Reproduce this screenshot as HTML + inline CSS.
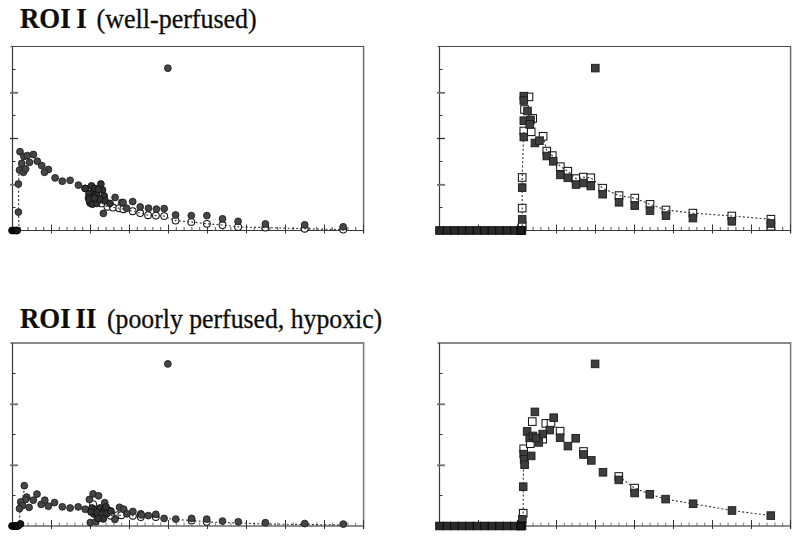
<!DOCTYPE html><html><head><meta charset="utf-8"><style>html,body{margin:0;padding:0;background:#fff;width:800px;height:539px;overflow:hidden}svg{display:block;font-family:"Liberation Serif",serif}</style></head><body><svg width="800" height="539" viewBox="0 0 800 539">
<rect width="800" height="539" fill="#fff"/>
<text transform="translate(20.0,27.6) scale(1.0,1.085)" font-family="Liberation Serif" font-weight="bold" font-size="26.8" fill="#0d0d0d" stroke="#0d0d0d" stroke-width="0.2">ROI</text>
<text transform="translate(76.2,27.6) scale(1.0,1.085)" font-family="Liberation Serif" font-weight="bold" font-size="26.8" fill="#0d0d0d" stroke="#0d0d0d" stroke-width="0.2">I</text>
<text transform="translate(96.6,27.6) scale(1.0,1.07)" font-family="Liberation Serif" font-size="26" fill="#0d0d0d" stroke="#0d0d0d" stroke-width="0.3">(well-perfused)</text>
<text transform="translate(20.0,328.3) scale(1.0,1.085)" font-family="Liberation Serif" font-weight="bold" font-size="26.8" fill="#0d0d0d" stroke="#0d0d0d" stroke-width="0.2">ROI</text>
<text transform="translate(75.6,328.3) scale(1.0,1.085)" font-family="Liberation Serif" font-weight="bold" font-size="26.8" fill="#0d0d0d" stroke="#0d0d0d" stroke-width="0.2">II</text>
<text transform="translate(107.0,328.3) scale(0.99,1.07)" font-family="Liberation Serif" font-size="26" fill="#0d0d0d" stroke="#0d0d0d" stroke-width="0.3">(poorly perfused, hypoxic)</text>
<line x1="10.5" y1="46.5" x2="363.6" y2="46.5" stroke="#4a4a4a" stroke-width="1.1"/>
<line x1="363.6" y1="46.5" x2="363.6" y2="232.5" stroke="#666" stroke-width="1.4" stroke-linecap="square"/>
<line x1="12.5" y1="46.5" x2="12.5" y2="230.5" stroke="#3a3a3a" stroke-width="1.2"/>
<line x1="12.5" y1="230.5" x2="363.6" y2="230.5" stroke="#3a3a3a" stroke-width="1.2"/>
<line x1="10.0" y1="92.8" x2="18.0" y2="92.8" stroke="#707070" stroke-width="1.8"/>
<line x1="10.0" y1="138.5" x2="18.0" y2="138.5" stroke="#333" stroke-width="1.3"/>
<line x1="10.0" y1="184.8" x2="18.0" y2="184.8" stroke="#707070" stroke-width="1.8"/>
<line x1="12.5" y1="69.5" x2="15.5" y2="69.5" stroke="#333" stroke-width="1"/>
<line x1="12.5" y1="115.5" x2="15.5" y2="115.5" stroke="#333" stroke-width="1"/>
<line x1="12.5" y1="161.5" x2="15.5" y2="161.5" stroke="#333" stroke-width="1"/>
<line x1="12.5" y1="207.5" x2="15.5" y2="207.5" stroke="#333" stroke-width="1"/>
<line x1="51.5" y1="224.5" x2="51.5" y2="233.5" stroke="#333" stroke-width="1"/>
<line x1="90.5" y1="224.5" x2="90.5" y2="233.5" stroke="#333" stroke-width="1"/>
<line x1="129.5" y1="224.5" x2="129.5" y2="233.5" stroke="#333" stroke-width="1"/>
<line x1="168.5" y1="224.5" x2="168.5" y2="233.5" stroke="#333" stroke-width="1"/>
<line x1="207.5" y1="224.5" x2="207.5" y2="233.5" stroke="#333" stroke-width="1"/>
<line x1="246.5" y1="224.5" x2="246.5" y2="233.5" stroke="#333" stroke-width="1"/>
<line x1="285.5" y1="224.5" x2="285.5" y2="233.5" stroke="#333" stroke-width="1"/>
<line x1="324.5" y1="224.5" x2="324.5" y2="233.5" stroke="#333" stroke-width="1"/>
<line x1="363.5" y1="224.5" x2="363.5" y2="233.5" stroke="#333" stroke-width="1"/>
<line x1="20.3" y1="227.0" x2="20.3" y2="230.5" stroke="#444" stroke-width="0.9"/>
<line x1="28.1" y1="227.0" x2="28.1" y2="230.5" stroke="#444" stroke-width="0.9"/>
<line x1="35.9" y1="227.0" x2="35.9" y2="230.5" stroke="#444" stroke-width="0.9"/>
<line x1="43.7" y1="227.0" x2="43.7" y2="230.5" stroke="#444" stroke-width="0.9"/>
<line x1="59.3" y1="227.0" x2="59.3" y2="230.5" stroke="#444" stroke-width="0.9"/>
<line x1="67.1" y1="227.0" x2="67.1" y2="230.5" stroke="#444" stroke-width="0.9"/>
<line x1="74.9" y1="227.0" x2="74.9" y2="230.5" stroke="#444" stroke-width="0.9"/>
<line x1="82.7" y1="227.0" x2="82.7" y2="230.5" stroke="#444" stroke-width="0.9"/>
<line x1="98.3" y1="227.0" x2="98.3" y2="230.5" stroke="#444" stroke-width="0.9"/>
<line x1="106.1" y1="227.0" x2="106.1" y2="230.5" stroke="#444" stroke-width="0.9"/>
<line x1="113.9" y1="227.0" x2="113.9" y2="230.5" stroke="#444" stroke-width="0.9"/>
<line x1="121.7" y1="227.0" x2="121.7" y2="230.5" stroke="#444" stroke-width="0.9"/>
<line x1="137.3" y1="227.0" x2="137.3" y2="230.5" stroke="#444" stroke-width="0.9"/>
<line x1="145.1" y1="227.0" x2="145.1" y2="230.5" stroke="#444" stroke-width="0.9"/>
<line x1="152.9" y1="227.0" x2="152.9" y2="230.5" stroke="#444" stroke-width="0.9"/>
<line x1="160.7" y1="227.0" x2="160.7" y2="230.5" stroke="#444" stroke-width="0.9"/>
<line x1="176.3" y1="227.0" x2="176.3" y2="230.5" stroke="#444" stroke-width="0.9"/>
<line x1="184.1" y1="227.0" x2="184.1" y2="230.5" stroke="#444" stroke-width="0.9"/>
<line x1="191.9" y1="227.0" x2="191.9" y2="230.5" stroke="#444" stroke-width="0.9"/>
<line x1="199.7" y1="227.0" x2="199.7" y2="230.5" stroke="#444" stroke-width="0.9"/>
<line x1="215.3" y1="227.0" x2="215.3" y2="230.5" stroke="#444" stroke-width="0.9"/>
<line x1="223.1" y1="227.0" x2="223.1" y2="230.5" stroke="#444" stroke-width="0.9"/>
<line x1="230.9" y1="227.0" x2="230.9" y2="230.5" stroke="#444" stroke-width="0.9"/>
<line x1="238.7" y1="227.0" x2="238.7" y2="230.5" stroke="#444" stroke-width="0.9"/>
<line x1="254.3" y1="227.0" x2="254.3" y2="230.5" stroke="#444" stroke-width="0.9"/>
<line x1="262.1" y1="227.0" x2="262.1" y2="230.5" stroke="#444" stroke-width="0.9"/>
<line x1="269.9" y1="227.0" x2="269.9" y2="230.5" stroke="#444" stroke-width="0.9"/>
<line x1="277.7" y1="227.0" x2="277.7" y2="230.5" stroke="#444" stroke-width="0.9"/>
<line x1="293.3" y1="227.0" x2="293.3" y2="230.5" stroke="#444" stroke-width="0.9"/>
<line x1="301.1" y1="227.0" x2="301.1" y2="230.5" stroke="#444" stroke-width="0.9"/>
<line x1="308.9" y1="227.0" x2="308.9" y2="230.5" stroke="#444" stroke-width="0.9"/>
<line x1="316.7" y1="227.0" x2="316.7" y2="230.5" stroke="#444" stroke-width="0.9"/>
<line x1="332.3" y1="227.0" x2="332.3" y2="230.5" stroke="#444" stroke-width="0.9"/>
<line x1="340.1" y1="227.0" x2="340.1" y2="230.5" stroke="#444" stroke-width="0.9"/>
<line x1="347.9" y1="227.0" x2="347.9" y2="230.5" stroke="#444" stroke-width="0.9"/>
<line x1="355.7" y1="227.0" x2="355.7" y2="230.5" stroke="#444" stroke-width="0.9"/>
<line x1="437.5" y1="46.5" x2="790.6" y2="46.5" stroke="#4a4a4a" stroke-width="1.1"/>
<line x1="790.6" y1="46.5" x2="790.6" y2="232.5" stroke="#666" stroke-width="1.4" stroke-linecap="square"/>
<line x1="439.5" y1="46.5" x2="439.5" y2="230.5" stroke="#3a3a3a" stroke-width="1.2"/>
<line x1="439.5" y1="230.5" x2="790.6" y2="230.5" stroke="#3a3a3a" stroke-width="1.2"/>
<line x1="437.0" y1="92.8" x2="445.0" y2="92.8" stroke="#707070" stroke-width="1.8"/>
<line x1="437.0" y1="138.5" x2="445.0" y2="138.5" stroke="#333" stroke-width="1.3"/>
<line x1="437.0" y1="184.8" x2="445.0" y2="184.8" stroke="#707070" stroke-width="1.8"/>
<line x1="439.5" y1="69.5" x2="442.5" y2="69.5" stroke="#333" stroke-width="1"/>
<line x1="439.5" y1="115.5" x2="442.5" y2="115.5" stroke="#333" stroke-width="1"/>
<line x1="439.5" y1="161.5" x2="442.5" y2="161.5" stroke="#333" stroke-width="1"/>
<line x1="439.5" y1="207.5" x2="442.5" y2="207.5" stroke="#333" stroke-width="1"/>
<line x1="478.5" y1="224.5" x2="478.5" y2="233.5" stroke="#333" stroke-width="1"/>
<line x1="517.5" y1="224.5" x2="517.5" y2="233.5" stroke="#333" stroke-width="1"/>
<line x1="556.5" y1="224.5" x2="556.5" y2="233.5" stroke="#333" stroke-width="1"/>
<line x1="595.5" y1="224.5" x2="595.5" y2="233.5" stroke="#333" stroke-width="1"/>
<line x1="634.5" y1="224.5" x2="634.5" y2="233.5" stroke="#333" stroke-width="1"/>
<line x1="673.5" y1="224.5" x2="673.5" y2="233.5" stroke="#333" stroke-width="1"/>
<line x1="712.5" y1="224.5" x2="712.5" y2="233.5" stroke="#333" stroke-width="1"/>
<line x1="751.5" y1="224.5" x2="751.5" y2="233.5" stroke="#333" stroke-width="1"/>
<line x1="790.5" y1="224.5" x2="790.5" y2="233.5" stroke="#333" stroke-width="1"/>
<line x1="447.3" y1="227.0" x2="447.3" y2="230.5" stroke="#444" stroke-width="0.9"/>
<line x1="455.1" y1="227.0" x2="455.1" y2="230.5" stroke="#444" stroke-width="0.9"/>
<line x1="462.9" y1="227.0" x2="462.9" y2="230.5" stroke="#444" stroke-width="0.9"/>
<line x1="470.7" y1="227.0" x2="470.7" y2="230.5" stroke="#444" stroke-width="0.9"/>
<line x1="486.3" y1="227.0" x2="486.3" y2="230.5" stroke="#444" stroke-width="0.9"/>
<line x1="494.1" y1="227.0" x2="494.1" y2="230.5" stroke="#444" stroke-width="0.9"/>
<line x1="501.9" y1="227.0" x2="501.9" y2="230.5" stroke="#444" stroke-width="0.9"/>
<line x1="509.7" y1="227.0" x2="509.7" y2="230.5" stroke="#444" stroke-width="0.9"/>
<line x1="525.3" y1="227.0" x2="525.3" y2="230.5" stroke="#444" stroke-width="0.9"/>
<line x1="533.1" y1="227.0" x2="533.1" y2="230.5" stroke="#444" stroke-width="0.9"/>
<line x1="540.9" y1="227.0" x2="540.9" y2="230.5" stroke="#444" stroke-width="0.9"/>
<line x1="548.7" y1="227.0" x2="548.7" y2="230.5" stroke="#444" stroke-width="0.9"/>
<line x1="564.3" y1="227.0" x2="564.3" y2="230.5" stroke="#444" stroke-width="0.9"/>
<line x1="572.1" y1="227.0" x2="572.1" y2="230.5" stroke="#444" stroke-width="0.9"/>
<line x1="579.9" y1="227.0" x2="579.9" y2="230.5" stroke="#444" stroke-width="0.9"/>
<line x1="587.7" y1="227.0" x2="587.7" y2="230.5" stroke="#444" stroke-width="0.9"/>
<line x1="603.3" y1="227.0" x2="603.3" y2="230.5" stroke="#444" stroke-width="0.9"/>
<line x1="611.1" y1="227.0" x2="611.1" y2="230.5" stroke="#444" stroke-width="0.9"/>
<line x1="618.9" y1="227.0" x2="618.9" y2="230.5" stroke="#444" stroke-width="0.9"/>
<line x1="626.7" y1="227.0" x2="626.7" y2="230.5" stroke="#444" stroke-width="0.9"/>
<line x1="642.3" y1="227.0" x2="642.3" y2="230.5" stroke="#444" stroke-width="0.9"/>
<line x1="650.1" y1="227.0" x2="650.1" y2="230.5" stroke="#444" stroke-width="0.9"/>
<line x1="657.9" y1="227.0" x2="657.9" y2="230.5" stroke="#444" stroke-width="0.9"/>
<line x1="665.7" y1="227.0" x2="665.7" y2="230.5" stroke="#444" stroke-width="0.9"/>
<line x1="681.3" y1="227.0" x2="681.3" y2="230.5" stroke="#444" stroke-width="0.9"/>
<line x1="689.1" y1="227.0" x2="689.1" y2="230.5" stroke="#444" stroke-width="0.9"/>
<line x1="696.9" y1="227.0" x2="696.9" y2="230.5" stroke="#444" stroke-width="0.9"/>
<line x1="704.7" y1="227.0" x2="704.7" y2="230.5" stroke="#444" stroke-width="0.9"/>
<line x1="720.3" y1="227.0" x2="720.3" y2="230.5" stroke="#444" stroke-width="0.9"/>
<line x1="728.1" y1="227.0" x2="728.1" y2="230.5" stroke="#444" stroke-width="0.9"/>
<line x1="735.9" y1="227.0" x2="735.9" y2="230.5" stroke="#444" stroke-width="0.9"/>
<line x1="743.7" y1="227.0" x2="743.7" y2="230.5" stroke="#444" stroke-width="0.9"/>
<line x1="759.3" y1="227.0" x2="759.3" y2="230.5" stroke="#444" stroke-width="0.9"/>
<line x1="767.1" y1="227.0" x2="767.1" y2="230.5" stroke="#444" stroke-width="0.9"/>
<line x1="774.9" y1="227.0" x2="774.9" y2="230.5" stroke="#444" stroke-width="0.9"/>
<line x1="782.7" y1="227.0" x2="782.7" y2="230.5" stroke="#444" stroke-width="0.9"/>
<line x1="10.5" y1="343" x2="363.6" y2="343" stroke="#8a8a8a" stroke-width="2"/>
<line x1="363.6" y1="343" x2="363.6" y2="528" stroke="#777" stroke-width="1.5" stroke-linecap="square"/>
<line x1="12.5" y1="343" x2="12.5" y2="526" stroke="#3a3a3a" stroke-width="1.2"/>
<line x1="12.5" y1="526" x2="363.6" y2="526" stroke="#6a6a6a" stroke-width="1.6"/>
<line x1="10.0" y1="404.3" x2="18.0" y2="404.3" stroke="#707070" stroke-width="1.8"/>
<line x1="10.0" y1="465.3" x2="18.0" y2="465.3" stroke="#707070" stroke-width="1.8"/>
<line x1="12.5" y1="373.5" x2="15.5" y2="373.5" stroke="#333" stroke-width="1"/>
<line x1="12.5" y1="434.5" x2="15.5" y2="434.5" stroke="#333" stroke-width="1"/>
<line x1="12.5" y1="495.5" x2="15.5" y2="495.5" stroke="#333" stroke-width="1"/>
<line x1="51.5" y1="520" x2="51.5" y2="529" stroke="#333" stroke-width="1"/>
<line x1="90.5" y1="520" x2="90.5" y2="529" stroke="#333" stroke-width="1"/>
<line x1="129.5" y1="520" x2="129.5" y2="529" stroke="#333" stroke-width="1"/>
<line x1="168.5" y1="520" x2="168.5" y2="529" stroke="#333" stroke-width="1"/>
<line x1="207.5" y1="520" x2="207.5" y2="529" stroke="#333" stroke-width="1"/>
<line x1="246.5" y1="520" x2="246.5" y2="529" stroke="#333" stroke-width="1"/>
<line x1="285.5" y1="520" x2="285.5" y2="529" stroke="#333" stroke-width="1"/>
<line x1="324.5" y1="520" x2="324.5" y2="529" stroke="#333" stroke-width="1"/>
<line x1="363.5" y1="520" x2="363.5" y2="529" stroke="#333" stroke-width="1"/>
<line x1="20.3" y1="522.5" x2="20.3" y2="526" stroke="#6a6a6a" stroke-width="0.9"/>
<line x1="28.1" y1="522.5" x2="28.1" y2="526" stroke="#6a6a6a" stroke-width="0.9"/>
<line x1="35.9" y1="522.5" x2="35.9" y2="526" stroke="#6a6a6a" stroke-width="0.9"/>
<line x1="43.7" y1="522.5" x2="43.7" y2="526" stroke="#6a6a6a" stroke-width="0.9"/>
<line x1="59.3" y1="522.5" x2="59.3" y2="526" stroke="#6a6a6a" stroke-width="0.9"/>
<line x1="67.1" y1="522.5" x2="67.1" y2="526" stroke="#6a6a6a" stroke-width="0.9"/>
<line x1="74.9" y1="522.5" x2="74.9" y2="526" stroke="#6a6a6a" stroke-width="0.9"/>
<line x1="82.7" y1="522.5" x2="82.7" y2="526" stroke="#6a6a6a" stroke-width="0.9"/>
<line x1="98.3" y1="522.5" x2="98.3" y2="526" stroke="#6a6a6a" stroke-width="0.9"/>
<line x1="106.1" y1="522.5" x2="106.1" y2="526" stroke="#6a6a6a" stroke-width="0.9"/>
<line x1="113.9" y1="522.5" x2="113.9" y2="526" stroke="#6a6a6a" stroke-width="0.9"/>
<line x1="121.7" y1="522.5" x2="121.7" y2="526" stroke="#6a6a6a" stroke-width="0.9"/>
<line x1="137.3" y1="522.5" x2="137.3" y2="526" stroke="#6a6a6a" stroke-width="0.9"/>
<line x1="145.1" y1="522.5" x2="145.1" y2="526" stroke="#6a6a6a" stroke-width="0.9"/>
<line x1="152.9" y1="522.5" x2="152.9" y2="526" stroke="#6a6a6a" stroke-width="0.9"/>
<line x1="160.7" y1="522.5" x2="160.7" y2="526" stroke="#6a6a6a" stroke-width="0.9"/>
<line x1="176.3" y1="522.5" x2="176.3" y2="526" stroke="#6a6a6a" stroke-width="0.9"/>
<line x1="184.1" y1="522.5" x2="184.1" y2="526" stroke="#6a6a6a" stroke-width="0.9"/>
<line x1="191.9" y1="522.5" x2="191.9" y2="526" stroke="#6a6a6a" stroke-width="0.9"/>
<line x1="199.7" y1="522.5" x2="199.7" y2="526" stroke="#6a6a6a" stroke-width="0.9"/>
<line x1="215.3" y1="522.5" x2="215.3" y2="526" stroke="#6a6a6a" stroke-width="0.9"/>
<line x1="223.1" y1="522.5" x2="223.1" y2="526" stroke="#6a6a6a" stroke-width="0.9"/>
<line x1="230.9" y1="522.5" x2="230.9" y2="526" stroke="#6a6a6a" stroke-width="0.9"/>
<line x1="238.7" y1="522.5" x2="238.7" y2="526" stroke="#6a6a6a" stroke-width="0.9"/>
<line x1="254.3" y1="522.5" x2="254.3" y2="526" stroke="#6a6a6a" stroke-width="0.9"/>
<line x1="262.1" y1="522.5" x2="262.1" y2="526" stroke="#6a6a6a" stroke-width="0.9"/>
<line x1="269.9" y1="522.5" x2="269.9" y2="526" stroke="#6a6a6a" stroke-width="0.9"/>
<line x1="277.7" y1="522.5" x2="277.7" y2="526" stroke="#6a6a6a" stroke-width="0.9"/>
<line x1="293.3" y1="522.5" x2="293.3" y2="526" stroke="#6a6a6a" stroke-width="0.9"/>
<line x1="301.1" y1="522.5" x2="301.1" y2="526" stroke="#6a6a6a" stroke-width="0.9"/>
<line x1="308.9" y1="522.5" x2="308.9" y2="526" stroke="#6a6a6a" stroke-width="0.9"/>
<line x1="316.7" y1="522.5" x2="316.7" y2="526" stroke="#6a6a6a" stroke-width="0.9"/>
<line x1="332.3" y1="522.5" x2="332.3" y2="526" stroke="#6a6a6a" stroke-width="0.9"/>
<line x1="340.1" y1="522.5" x2="340.1" y2="526" stroke="#6a6a6a" stroke-width="0.9"/>
<line x1="347.9" y1="522.5" x2="347.9" y2="526" stroke="#6a6a6a" stroke-width="0.9"/>
<line x1="355.7" y1="522.5" x2="355.7" y2="526" stroke="#6a6a6a" stroke-width="0.9"/>
<line x1="437.5" y1="343" x2="790.6" y2="343" stroke="#8a8a8a" stroke-width="2"/>
<line x1="790.6" y1="343" x2="790.6" y2="528" stroke="#777" stroke-width="1.5" stroke-linecap="square"/>
<line x1="439.5" y1="343" x2="439.5" y2="526" stroke="#3a3a3a" stroke-width="1.2"/>
<line x1="439.5" y1="526" x2="790.6" y2="526" stroke="#6a6a6a" stroke-width="1.6"/>
<line x1="437.0" y1="404.3" x2="445.0" y2="404.3" stroke="#707070" stroke-width="1.8"/>
<line x1="437.0" y1="465.3" x2="445.0" y2="465.3" stroke="#707070" stroke-width="1.8"/>
<line x1="439.5" y1="373.5" x2="442.5" y2="373.5" stroke="#333" stroke-width="1"/>
<line x1="439.5" y1="434.5" x2="442.5" y2="434.5" stroke="#333" stroke-width="1"/>
<line x1="439.5" y1="495.5" x2="442.5" y2="495.5" stroke="#333" stroke-width="1"/>
<line x1="478.5" y1="520" x2="478.5" y2="529" stroke="#333" stroke-width="1"/>
<line x1="517.5" y1="520" x2="517.5" y2="529" stroke="#333" stroke-width="1"/>
<line x1="556.5" y1="520" x2="556.5" y2="529" stroke="#333" stroke-width="1"/>
<line x1="595.5" y1="520" x2="595.5" y2="529" stroke="#333" stroke-width="1"/>
<line x1="634.5" y1="520" x2="634.5" y2="529" stroke="#333" stroke-width="1"/>
<line x1="673.5" y1="520" x2="673.5" y2="529" stroke="#333" stroke-width="1"/>
<line x1="712.5" y1="520" x2="712.5" y2="529" stroke="#333" stroke-width="1"/>
<line x1="751.5" y1="520" x2="751.5" y2="529" stroke="#333" stroke-width="1"/>
<line x1="790.5" y1="520" x2="790.5" y2="529" stroke="#333" stroke-width="1"/>
<line x1="447.3" y1="522.5" x2="447.3" y2="526" stroke="#6a6a6a" stroke-width="0.9"/>
<line x1="455.1" y1="522.5" x2="455.1" y2="526" stroke="#6a6a6a" stroke-width="0.9"/>
<line x1="462.9" y1="522.5" x2="462.9" y2="526" stroke="#6a6a6a" stroke-width="0.9"/>
<line x1="470.7" y1="522.5" x2="470.7" y2="526" stroke="#6a6a6a" stroke-width="0.9"/>
<line x1="486.3" y1="522.5" x2="486.3" y2="526" stroke="#6a6a6a" stroke-width="0.9"/>
<line x1="494.1" y1="522.5" x2="494.1" y2="526" stroke="#6a6a6a" stroke-width="0.9"/>
<line x1="501.9" y1="522.5" x2="501.9" y2="526" stroke="#6a6a6a" stroke-width="0.9"/>
<line x1="509.7" y1="522.5" x2="509.7" y2="526" stroke="#6a6a6a" stroke-width="0.9"/>
<line x1="525.3" y1="522.5" x2="525.3" y2="526" stroke="#6a6a6a" stroke-width="0.9"/>
<line x1="533.1" y1="522.5" x2="533.1" y2="526" stroke="#6a6a6a" stroke-width="0.9"/>
<line x1="540.9" y1="522.5" x2="540.9" y2="526" stroke="#6a6a6a" stroke-width="0.9"/>
<line x1="548.7" y1="522.5" x2="548.7" y2="526" stroke="#6a6a6a" stroke-width="0.9"/>
<line x1="564.3" y1="522.5" x2="564.3" y2="526" stroke="#6a6a6a" stroke-width="0.9"/>
<line x1="572.1" y1="522.5" x2="572.1" y2="526" stroke="#6a6a6a" stroke-width="0.9"/>
<line x1="579.9" y1="522.5" x2="579.9" y2="526" stroke="#6a6a6a" stroke-width="0.9"/>
<line x1="587.7" y1="522.5" x2="587.7" y2="526" stroke="#6a6a6a" stroke-width="0.9"/>
<line x1="603.3" y1="522.5" x2="603.3" y2="526" stroke="#6a6a6a" stroke-width="0.9"/>
<line x1="611.1" y1="522.5" x2="611.1" y2="526" stroke="#6a6a6a" stroke-width="0.9"/>
<line x1="618.9" y1="522.5" x2="618.9" y2="526" stroke="#6a6a6a" stroke-width="0.9"/>
<line x1="626.7" y1="522.5" x2="626.7" y2="526" stroke="#6a6a6a" stroke-width="0.9"/>
<line x1="642.3" y1="522.5" x2="642.3" y2="526" stroke="#6a6a6a" stroke-width="0.9"/>
<line x1="650.1" y1="522.5" x2="650.1" y2="526" stroke="#6a6a6a" stroke-width="0.9"/>
<line x1="657.9" y1="522.5" x2="657.9" y2="526" stroke="#6a6a6a" stroke-width="0.9"/>
<line x1="665.7" y1="522.5" x2="665.7" y2="526" stroke="#6a6a6a" stroke-width="0.9"/>
<line x1="681.3" y1="522.5" x2="681.3" y2="526" stroke="#6a6a6a" stroke-width="0.9"/>
<line x1="689.1" y1="522.5" x2="689.1" y2="526" stroke="#6a6a6a" stroke-width="0.9"/>
<line x1="696.9" y1="522.5" x2="696.9" y2="526" stroke="#6a6a6a" stroke-width="0.9"/>
<line x1="704.7" y1="522.5" x2="704.7" y2="526" stroke="#6a6a6a" stroke-width="0.9"/>
<line x1="720.3" y1="522.5" x2="720.3" y2="526" stroke="#6a6a6a" stroke-width="0.9"/>
<line x1="728.1" y1="522.5" x2="728.1" y2="526" stroke="#6a6a6a" stroke-width="0.9"/>
<line x1="735.9" y1="522.5" x2="735.9" y2="526" stroke="#6a6a6a" stroke-width="0.9"/>
<line x1="743.7" y1="522.5" x2="743.7" y2="526" stroke="#6a6a6a" stroke-width="0.9"/>
<line x1="759.3" y1="522.5" x2="759.3" y2="526" stroke="#6a6a6a" stroke-width="0.9"/>
<line x1="767.1" y1="522.5" x2="767.1" y2="526" stroke="#6a6a6a" stroke-width="0.9"/>
<line x1="774.9" y1="522.5" x2="774.9" y2="526" stroke="#6a6a6a" stroke-width="0.9"/>
<line x1="782.7" y1="522.5" x2="782.7" y2="526" stroke="#6a6a6a" stroke-width="0.9"/>
<circle cx="101.7" cy="203.4" r="3.4" fill="#fff" stroke="#151515" stroke-width="1.05"/>
<circle cx="107.5" cy="206.7" r="3.4" fill="#fff" stroke="#151515" stroke-width="1.05"/>
<circle cx="113" cy="207.5" r="3.4" fill="#fff" stroke="#151515" stroke-width="1.05"/>
<circle cx="119.2" cy="208.2" r="3.4" fill="#fff" stroke="#151515" stroke-width="1.05"/>
<circle cx="123.4" cy="209.2" r="3.4" fill="#fff" stroke="#151515" stroke-width="1.05"/>
<circle cx="132.7" cy="211.2" r="3.4" fill="#fff" stroke="#151515" stroke-width="1.05"/>
<circle cx="140.2" cy="213.0" r="3.4" fill="#fff" stroke="#151515" stroke-width="1.05"/>
<circle cx="148.1" cy="215.2" r="3.4" fill="#fff" stroke="#151515" stroke-width="1.05"/>
<circle cx="155.9" cy="215.6" r="3.4" fill="#fff" stroke="#151515" stroke-width="1.05"/>
<circle cx="164.2" cy="216.1" r="3.4" fill="#fff" stroke="#151515" stroke-width="1.05"/>
<circle cx="175.6" cy="220.6" r="3.4" fill="#fff" stroke="#151515" stroke-width="1.05"/>
<circle cx="191.3" cy="221.9" r="3.4" fill="#fff" stroke="#151515" stroke-width="1.05"/>
<circle cx="206.9" cy="223.8" r="3.4" fill="#fff" stroke="#151515" stroke-width="1.05"/>
<circle cx="222.5" cy="225" r="3.4" fill="#fff" stroke="#151515" stroke-width="1.05"/>
<circle cx="238.1" cy="226.9" r="3.4" fill="#fff" stroke="#151515" stroke-width="1.05"/>
<circle cx="265.4" cy="227.6" r="3.4" fill="#fff" stroke="#151515" stroke-width="1.05"/>
<circle cx="304.7" cy="228.7" r="3.4" fill="#fff" stroke="#151515" stroke-width="1.05"/>
<circle cx="343.2" cy="229.6" r="3.4" fill="#fff" stroke="#151515" stroke-width="1.05"/>
<path d="M19,230.5 L18.6,212 L18.6,184 L19.5,160" fill="none" stroke="#333" stroke-width="1.1" stroke-dasharray="2,2.2"/>
<path d="M101.7,203.4 L107.5,206.7 L113,207.5 L119.2,208.2 L123.4,209.2 L132.7,211.2 L140.2,213.0 L148.1,215.2 L155.9,215.6 L164.2,216.1 L175.6,220.6 L191.3,221.9 L206.9,223.8 L222.5,225 L238.1,226.9 L265.4,227.6 L304.7,228.7 L343.2,229.6" fill="none" stroke="#333" stroke-width="1.1" stroke-dasharray="2,2.2"/>
<circle cx="18.4" cy="212.1" r="3.4" fill="#464646" stroke="#1e1e1e" stroke-width="0.9"/>
<circle cx="18.4" cy="184" r="3.4" fill="#464646" stroke="#1e1e1e" stroke-width="0.9"/>
<circle cx="19.5" cy="170.1" r="3.4" fill="#464646" stroke="#1e1e1e" stroke-width="0.9"/>
<circle cx="23.4" cy="172.3" r="3.4" fill="#464646" stroke="#1e1e1e" stroke-width="0.9"/>
<circle cx="25.6" cy="169" r="3.4" fill="#464646" stroke="#1e1e1e" stroke-width="0.9"/>
<circle cx="21.7" cy="163.4" r="3.4" fill="#464646" stroke="#1e1e1e" stroke-width="0.9"/>
<circle cx="29.5" cy="162.3" r="3.4" fill="#464646" stroke="#1e1e1e" stroke-width="0.9"/>
<circle cx="20.0" cy="151.7" r="3.4" fill="#464646" stroke="#1e1e1e" stroke-width="0.9"/>
<circle cx="23.9" cy="156.5" r="3.4" fill="#464646" stroke="#1e1e1e" stroke-width="0.9"/>
<circle cx="27.3" cy="155.6" r="3.4" fill="#464646" stroke="#1e1e1e" stroke-width="0.9"/>
<circle cx="33.4" cy="154.5" r="3.4" fill="#464646" stroke="#1e1e1e" stroke-width="0.9"/>
<circle cx="37.3" cy="161.2" r="3.4" fill="#464646" stroke="#1e1e1e" stroke-width="0.9"/>
<circle cx="41.7" cy="165.6" r="3.4" fill="#464646" stroke="#1e1e1e" stroke-width="0.9"/>
<circle cx="48.4" cy="169.5" r="3.4" fill="#464646" stroke="#1e1e1e" stroke-width="0.9"/>
<circle cx="44.5" cy="172.3" r="3.4" fill="#464646" stroke="#1e1e1e" stroke-width="0.9"/>
<circle cx="55.1" cy="177.9" r="3.4" fill="#464646" stroke="#1e1e1e" stroke-width="0.9"/>
<circle cx="62.3" cy="181.2" r="3.4" fill="#464646" stroke="#1e1e1e" stroke-width="0.9"/>
<circle cx="70.1" cy="180.3" r="3.4" fill="#464646" stroke="#1e1e1e" stroke-width="0.9"/>
<circle cx="78.4" cy="185.1" r="3.4" fill="#464646" stroke="#1e1e1e" stroke-width="0.9"/>
<circle cx="85.5" cy="188.5" r="3.4" fill="#333" stroke="#111" stroke-width="0.9"/>
<circle cx="91.5" cy="185.9" r="3.4" fill="#333" stroke="#111" stroke-width="0.9"/>
<circle cx="100.9" cy="184.0" r="3.4" fill="#333" stroke="#111" stroke-width="0.9"/>
<circle cx="85.0" cy="188.4" r="3.4" fill="#333" stroke="#111" stroke-width="0.9"/>
<circle cx="102.5" cy="190.0" r="3.4" fill="#333" stroke="#111" stroke-width="0.9"/>
<circle cx="92.5" cy="192.5" r="3.4" fill="#333" stroke="#111" stroke-width="0.9"/>
<circle cx="96.7" cy="195.0" r="3.4" fill="#333" stroke="#111" stroke-width="0.9"/>
<circle cx="104.2" cy="195.9" r="3.4" fill="#333" stroke="#111" stroke-width="0.9"/>
<circle cx="95" cy="188.5" r="3.4" fill="#333" stroke="#111" stroke-width="0.9"/>
<circle cx="98.5" cy="189.5" r="3.4" fill="#333" stroke="#111" stroke-width="0.9"/>
<circle cx="89" cy="194" r="3.4" fill="#333" stroke="#111" stroke-width="0.9"/>
<circle cx="93" cy="197.5" r="3.4" fill="#333" stroke="#111" stroke-width="0.9"/>
<circle cx="100" cy="199.5" r="3.4" fill="#333" stroke="#111" stroke-width="0.9"/>
<circle cx="105" cy="200.5" r="3.4" fill="#333" stroke="#111" stroke-width="0.9"/>
<circle cx="88.5" cy="198" r="3.4" fill="#333" stroke="#111" stroke-width="0.9"/>
<circle cx="90" cy="203" r="3.4" fill="#333" stroke="#111" stroke-width="0.9"/>
<circle cx="89.2" cy="200" r="3.4" fill="#333" stroke="#111" stroke-width="0.9"/>
<circle cx="92.5" cy="204.2" r="3.4" fill="#333" stroke="#111" stroke-width="0.9"/>
<circle cx="96.7" cy="203.4" r="3.4" fill="#333" stroke="#111" stroke-width="0.9"/>
<circle cx="99.5" cy="199" r="3.4" fill="#333" stroke="#111" stroke-width="0.9"/>
<circle cx="94.5" cy="198" r="3.4" fill="#333" stroke="#111" stroke-width="0.9"/>
<circle cx="110" cy="203.4" r="3.4" fill="#333" stroke="#111" stroke-width="0.9"/>
<circle cx="103.4" cy="213.4" r="3.4" fill="#464646" stroke="#1e1e1e" stroke-width="0.9"/>
<circle cx="115.1" cy="197.5" r="3.4" fill="#464646" stroke="#1e1e1e" stroke-width="0.9"/>
<circle cx="121.7" cy="202.5" r="3.4" fill="#464646" stroke="#1e1e1e" stroke-width="0.9"/>
<circle cx="123.1" cy="202.5" r="3.4" fill="#464646" stroke="#1e1e1e" stroke-width="0.9"/>
<circle cx="126.6" cy="208.2" r="3.4" fill="#464646" stroke="#1e1e1e" stroke-width="0.9"/>
<circle cx="132.7" cy="201.6" r="3.4" fill="#464646" stroke="#1e1e1e" stroke-width="0.9"/>
<circle cx="140.2" cy="206.9" r="3.4" fill="#464646" stroke="#1e1e1e" stroke-width="0.9"/>
<circle cx="148.5" cy="208.2" r="3.4" fill="#464646" stroke="#1e1e1e" stroke-width="0.9"/>
<circle cx="156.4" cy="209.1" r="3.4" fill="#464646" stroke="#1e1e1e" stroke-width="0.9"/>
<circle cx="164.2" cy="208.6" r="3.4" fill="#464646" stroke="#1e1e1e" stroke-width="0.9"/>
<circle cx="175.6" cy="215" r="3.4" fill="#464646" stroke="#1e1e1e" stroke-width="0.9"/>
<circle cx="191.3" cy="215.6" r="3.4" fill="#464646" stroke="#1e1e1e" stroke-width="0.9"/>
<circle cx="206.9" cy="215.6" r="3.4" fill="#464646" stroke="#1e1e1e" stroke-width="0.9"/>
<circle cx="222.5" cy="218.8" r="3.4" fill="#464646" stroke="#1e1e1e" stroke-width="0.9"/>
<circle cx="238.1" cy="221.3" r="3.4" fill="#464646" stroke="#1e1e1e" stroke-width="0.9"/>
<circle cx="265.4" cy="223.9" r="3.4" fill="#464646" stroke="#1e1e1e" stroke-width="0.9"/>
<circle cx="304.7" cy="224.8" r="3.4" fill="#464646" stroke="#1e1e1e" stroke-width="0.9"/>
<circle cx="343.2" cy="226.8" r="3.4" fill="#464646" stroke="#1e1e1e" stroke-width="0.9"/>
<circle cx="167.85" cy="68.2" r="3.4" fill="#464646" stroke="#1e1e1e" stroke-width="0.9"/>
<circle cx="12" cy="230.5" r="3.4" fill="#151515" stroke="#000" stroke-width="0.9"/>
<circle cx="13.5" cy="230.5" r="3.4" fill="#151515" stroke="#000" stroke-width="0.9"/>
<circle cx="15" cy="230.5" r="3.4" fill="#151515" stroke="#000" stroke-width="0.9"/>
<circle cx="16.5" cy="230.5" r="3.4" fill="#151515" stroke="#000" stroke-width="0.9"/>
<circle cx="17.2" cy="230.5" r="3.4" fill="#151515" stroke="#000" stroke-width="0.9"/>
<rect x="518.40" y="222.20" width="7.6" height="7.6" fill="#fff" stroke="#151515" stroke-width="1.05"/>
<rect x="518.40" y="204.30" width="7.6" height="7.6" fill="#fff" stroke="#151515" stroke-width="1.05"/>
<rect x="518.40" y="173.70" width="7.6" height="7.6" fill="#fff" stroke="#151515" stroke-width="1.05"/>
<rect x="525.20" y="93.10" width="7.6" height="7.6" fill="#fff" stroke="#151515" stroke-width="1.05"/>
<rect x="520.70" y="105.70" width="7.6" height="7.6" fill="#fff" stroke="#151515" stroke-width="1.05"/>
<rect x="528.90" y="114.60" width="7.6" height="7.6" fill="#fff" stroke="#151515" stroke-width="1.05"/>
<rect x="520.00" y="127.20" width="7.6" height="7.6" fill="#fff" stroke="#151515" stroke-width="1.05"/>
<rect x="527.40" y="128.00" width="7.6" height="7.6" fill="#fff" stroke="#151515" stroke-width="1.05"/>
<rect x="539.30" y="132.50" width="7.6" height="7.6" fill="#fff" stroke="#151515" stroke-width="1.05"/>
<rect x="543.00" y="147.30" width="7.6" height="7.6" fill="#fff" stroke="#151515" stroke-width="1.05"/>
<rect x="548.50" y="151.80" width="7.6" height="7.6" fill="#fff" stroke="#151515" stroke-width="1.05"/>
<rect x="556.60" y="162.90" width="7.6" height="7.6" fill="#fff" stroke="#151515" stroke-width="1.05"/>
<rect x="564.00" y="167.40" width="7.6" height="7.6" fill="#fff" stroke="#151515" stroke-width="1.05"/>
<rect x="572.20" y="174.80" width="7.6" height="7.6" fill="#fff" stroke="#151515" stroke-width="1.05"/>
<rect x="579.60" y="173.30" width="7.6" height="7.6" fill="#fff" stroke="#151515" stroke-width="1.05"/>
<rect x="587.00" y="174.00" width="7.6" height="7.6" fill="#fff" stroke="#151515" stroke-width="1.05"/>
<rect x="598.90" y="184.40" width="7.6" height="7.6" fill="#fff" stroke="#151515" stroke-width="1.05"/>
<rect x="615.20" y="191.80" width="7.6" height="7.6" fill="#fff" stroke="#151515" stroke-width="1.05"/>
<rect x="630.95" y="194.30" width="7.6" height="7.6" fill="#fff" stroke="#151515" stroke-width="1.05"/>
<rect x="646.20" y="200.60" width="7.6" height="7.6" fill="#fff" stroke="#151515" stroke-width="1.05"/>
<rect x="662.20" y="206.20" width="7.6" height="7.6" fill="#fff" stroke="#151515" stroke-width="1.05"/>
<rect x="689.10" y="209.30" width="7.6" height="7.6" fill="#fff" stroke="#151515" stroke-width="1.05"/>
<rect x="728.00" y="212.20" width="7.6" height="7.6" fill="#fff" stroke="#151515" stroke-width="1.05"/>
<rect x="767.10" y="215.40" width="7.6" height="7.6" fill="#fff" stroke="#151515" stroke-width="1.05"/>
<rect x="767.10" y="222.50" width="7.6" height="7.6" fill="#fff" stroke="#151515" stroke-width="1.05"/>
<path d="M522.2,230.5 L522.2,208.1 L522.2,177.5 L523.7,131.2" fill="none" stroke="#333" stroke-width="1.1" stroke-dasharray="2,2.2"/>
<path d="M543.1,136.3 L546.8,151.1 L552.3,155.6 L560.4,166.7 L567.8,171.2 L576,178.6 L583.4,177.1 L590.8,177.8 L602.7,188.2 L619,195.6 L634.75,198.1 L650,204.4 L666,210 L692.9,213.1 L731.8,216 L770.9,219.2" fill="none" stroke="#333" stroke-width="1.1" stroke-dasharray="2,2.2"/>
<rect x="518.40" y="215.60" width="7.6" height="7.6" fill="#3e3e3e" stroke="#1a1a1a" stroke-width="0.9"/>
<rect x="518.40" y="183.80" width="7.6" height="7.6" fill="#3e3e3e" stroke="#1a1a1a" stroke-width="0.9"/>
<rect x="520.00" y="92.30" width="7.6" height="7.6" fill="#3e3e3e" stroke="#1a1a1a" stroke-width="0.9"/>
<rect x="520.00" y="96.70" width="7.6" height="7.6" fill="#3e3e3e" stroke="#1a1a1a" stroke-width="0.9"/>
<rect x="523.70" y="107.20" width="7.6" height="7.6" fill="#3e3e3e" stroke="#1a1a1a" stroke-width="0.9"/>
<rect x="520.00" y="116.90" width="7.6" height="7.6" fill="#3e3e3e" stroke="#1a1a1a" stroke-width="0.9"/>
<rect x="526.70" y="116.20" width="7.6" height="7.6" fill="#3e3e3e" stroke="#1a1a1a" stroke-width="0.9"/>
<rect x="525.90" y="120.60" width="7.6" height="7.6" fill="#3e3e3e" stroke="#1a1a1a" stroke-width="0.9"/>
<rect x="520.00" y="133.20" width="7.6" height="7.6" fill="#3e3e3e" stroke="#1a1a1a" stroke-width="0.9"/>
<rect x="531.10" y="139.20" width="7.6" height="7.6" fill="#3e3e3e" stroke="#1a1a1a" stroke-width="0.9"/>
<rect x="535.60" y="136.90" width="7.6" height="7.6" fill="#3e3e3e" stroke="#1a1a1a" stroke-width="0.9"/>
<rect x="543.00" y="152.20" width="7.6" height="7.6" fill="#3e3e3e" stroke="#1a1a1a" stroke-width="0.9"/>
<rect x="549.40" y="157.50" width="7.6" height="7.6" fill="#3e3e3e" stroke="#1a1a1a" stroke-width="0.9"/>
<rect x="556.60" y="171.10" width="7.6" height="7.6" fill="#3e3e3e" stroke="#1a1a1a" stroke-width="0.9"/>
<rect x="564.00" y="174.00" width="7.6" height="7.6" fill="#3e3e3e" stroke="#1a1a1a" stroke-width="0.9"/>
<rect x="572.20" y="180.70" width="7.6" height="7.6" fill="#3e3e3e" stroke="#1a1a1a" stroke-width="0.9"/>
<rect x="579.60" y="179.20" width="7.6" height="7.6" fill="#3e3e3e" stroke="#1a1a1a" stroke-width="0.9"/>
<rect x="587.00" y="182.20" width="7.6" height="7.6" fill="#3e3e3e" stroke="#1a1a1a" stroke-width="0.9"/>
<rect x="598.90" y="190.40" width="7.6" height="7.6" fill="#3e3e3e" stroke="#1a1a1a" stroke-width="0.9"/>
<rect x="615.20" y="198.50" width="7.6" height="7.6" fill="#3e3e3e" stroke="#1a1a1a" stroke-width="0.9"/>
<rect x="630.95" y="201.80" width="7.6" height="7.6" fill="#3e3e3e" stroke="#1a1a1a" stroke-width="0.9"/>
<rect x="646.20" y="206.80" width="7.6" height="7.6" fill="#3e3e3e" stroke="#1a1a1a" stroke-width="0.9"/>
<rect x="662.20" y="211.80" width="7.6" height="7.6" fill="#3e3e3e" stroke="#1a1a1a" stroke-width="0.9"/>
<rect x="689.10" y="214.30" width="7.6" height="7.6" fill="#3e3e3e" stroke="#1a1a1a" stroke-width="0.9"/>
<rect x="728.00" y="217.50" width="7.6" height="7.6" fill="#3e3e3e" stroke="#1a1a1a" stroke-width="0.9"/>
<rect x="767.10" y="219.70" width="7.6" height="7.6" fill="#3e3e3e" stroke="#1a1a1a" stroke-width="0.9"/>
<rect x="591.50" y="64.30" width="7.6" height="7.6" fill="#3e3e3e" stroke="#1a1a1a" stroke-width="0.9"/>
<rect x="435.70" y="226.70" width="7.6" height="7.6" fill="#2a2a2a" stroke="#0a0a0a" stroke-width="0.9"/>
<rect x="443.20" y="226.70" width="7.6" height="7.6" fill="#2a2a2a" stroke="#0a0a0a" stroke-width="0.9"/>
<rect x="450.70" y="226.70" width="7.6" height="7.6" fill="#2a2a2a" stroke="#0a0a0a" stroke-width="0.9"/>
<rect x="458.20" y="226.70" width="7.6" height="7.6" fill="#2a2a2a" stroke="#0a0a0a" stroke-width="0.9"/>
<rect x="465.70" y="226.70" width="7.6" height="7.6" fill="#2a2a2a" stroke="#0a0a0a" stroke-width="0.9"/>
<rect x="473.20" y="226.70" width="7.6" height="7.6" fill="#2a2a2a" stroke="#0a0a0a" stroke-width="0.9"/>
<rect x="480.70" y="226.70" width="7.6" height="7.6" fill="#2a2a2a" stroke="#0a0a0a" stroke-width="0.9"/>
<rect x="488.20" y="226.70" width="7.6" height="7.6" fill="#2a2a2a" stroke="#0a0a0a" stroke-width="0.9"/>
<rect x="495.70" y="226.70" width="7.6" height="7.6" fill="#2a2a2a" stroke="#0a0a0a" stroke-width="0.9"/>
<rect x="503.20" y="226.70" width="7.6" height="7.6" fill="#2a2a2a" stroke="#0a0a0a" stroke-width="0.9"/>
<rect x="510.70" y="226.70" width="7.6" height="7.6" fill="#2a2a2a" stroke="#0a0a0a" stroke-width="0.9"/>
<rect x="518.20" y="226.70" width="7.6" height="7.6" fill="#2a2a2a" stroke="#0a0a0a" stroke-width="0.9"/>
<rect x="517.00" y="226.70" width="7.6" height="7.6" fill="#1a1a1a" stroke="#000" stroke-width="0.9"/>
<circle cx="93.1" cy="504.1" r="3.4" fill="#fff" stroke="#151515" stroke-width="1.05"/>
<circle cx="110.7" cy="515.7" r="3.4" fill="#fff" stroke="#151515" stroke-width="1.05"/>
<circle cx="117.6" cy="515.2" r="3.4" fill="#fff" stroke="#151515" stroke-width="1.05"/>
<circle cx="121.3" cy="515.2" r="3.4" fill="#fff" stroke="#151515" stroke-width="1.05"/>
<circle cx="132.9" cy="515.7" r="3.4" fill="#fff" stroke="#151515" stroke-width="1.05"/>
<circle cx="140.8" cy="517.1" r="3.4" fill="#fff" stroke="#151515" stroke-width="1.05"/>
<circle cx="155.8" cy="517" r="3.4" fill="#fff" stroke="#151515" stroke-width="1.05"/>
<circle cx="191.6" cy="520.4" r="3.4" fill="#fff" stroke="#151515" stroke-width="1.05"/>
<circle cx="206.7" cy="521.8" r="3.4" fill="#fff" stroke="#151515" stroke-width="1.05"/>
<path d="M19,526 L20,512 L24.3,490" fill="none" stroke="#333" stroke-width="1.1" stroke-dasharray="2,2.2"/>
<path d="M110.7,515.7 L117.6,515.2 L121.3,515.2 L132.9,515.7 L140.8,517.1 L155.8,517 L175.8,519.5 L191.6,520.4 L206.7,521.8 L222.5,522.5 L238.3,523 L265.2,524 L304.7,524.5 L343.3,525" fill="none" stroke="#333" stroke-width="1.1" stroke-dasharray="2,2.2"/>
<circle cx="24.3" cy="485.7" r="3.4" fill="#464646" stroke="#1e1e1e" stroke-width="0.9"/>
<circle cx="26.7" cy="497.1" r="3.4" fill="#464646" stroke="#1e1e1e" stroke-width="0.9"/>
<circle cx="25.5" cy="499.6" r="3.4" fill="#464646" stroke="#1e1e1e" stroke-width="0.9"/>
<circle cx="20.7" cy="502" r="3.4" fill="#464646" stroke="#1e1e1e" stroke-width="0.9"/>
<circle cx="22.5" cy="505.6" r="3.4" fill="#464646" stroke="#1e1e1e" stroke-width="0.9"/>
<circle cx="19.5" cy="508.6" r="3.4" fill="#464646" stroke="#1e1e1e" stroke-width="0.9"/>
<circle cx="29.1" cy="507.4" r="3.4" fill="#464646" stroke="#1e1e1e" stroke-width="0.9"/>
<circle cx="33.3" cy="500.2" r="3.4" fill="#464646" stroke="#1e1e1e" stroke-width="0.9"/>
<circle cx="37" cy="494.1" r="3.4" fill="#464646" stroke="#1e1e1e" stroke-width="0.9"/>
<circle cx="41.2" cy="504.4" r="3.4" fill="#464646" stroke="#1e1e1e" stroke-width="0.9"/>
<circle cx="44.8" cy="500.2" r="3.4" fill="#464646" stroke="#1e1e1e" stroke-width="0.9"/>
<circle cx="48.4" cy="506.2" r="3.4" fill="#464646" stroke="#1e1e1e" stroke-width="0.9"/>
<circle cx="54.5" cy="502.6" r="3.4" fill="#464646" stroke="#1e1e1e" stroke-width="0.9"/>
<circle cx="62.3" cy="506.8" r="3.4" fill="#464646" stroke="#1e1e1e" stroke-width="0.9"/>
<circle cx="70.1" cy="508" r="3.4" fill="#464646" stroke="#1e1e1e" stroke-width="0.9"/>
<circle cx="78.2" cy="506.9" r="3.4" fill="#464646" stroke="#1e1e1e" stroke-width="0.9"/>
<circle cx="85.2" cy="509.2" r="3.4" fill="#464646" stroke="#1e1e1e" stroke-width="0.9"/>
<circle cx="93.1" cy="493.9" r="3.4" fill="#464646" stroke="#1e1e1e" stroke-width="0.9"/>
<circle cx="98.6" cy="495.8" r="3.4" fill="#464646" stroke="#1e1e1e" stroke-width="0.9"/>
<circle cx="89.4" cy="499.5" r="3.4" fill="#464646" stroke="#1e1e1e" stroke-width="0.9"/>
<circle cx="104.7" cy="502.7" r="3.4" fill="#464646" stroke="#1e1e1e" stroke-width="0.9"/>
<circle cx="92" cy="508" r="3.4" fill="#333" stroke="#111" stroke-width="0.9"/>
<circle cx="96" cy="510" r="3.4" fill="#333" stroke="#111" stroke-width="0.9"/>
<circle cx="100" cy="508" r="3.4" fill="#333" stroke="#111" stroke-width="0.9"/>
<circle cx="104" cy="511" r="3.4" fill="#333" stroke="#111" stroke-width="0.9"/>
<circle cx="108" cy="510" r="3.4" fill="#333" stroke="#111" stroke-width="0.9"/>
<circle cx="94" cy="514" r="3.4" fill="#333" stroke="#111" stroke-width="0.9"/>
<circle cx="99" cy="515" r="3.4" fill="#333" stroke="#111" stroke-width="0.9"/>
<circle cx="106" cy="507" r="3.4" fill="#333" stroke="#111" stroke-width="0.9"/>
<circle cx="91" cy="512" r="3.4" fill="#333" stroke="#111" stroke-width="0.9"/>
<circle cx="97" cy="512.5" r="3.4" fill="#333" stroke="#111" stroke-width="0.9"/>
<circle cx="102" cy="514" r="3.4" fill="#333" stroke="#111" stroke-width="0.9"/>
<circle cx="107" cy="513.5" r="3.4" fill="#333" stroke="#111" stroke-width="0.9"/>
<circle cx="111" cy="511" r="3.4" fill="#333" stroke="#111" stroke-width="0.9"/>
<circle cx="90.3" cy="522.6" r="3.4" fill="#464646" stroke="#1e1e1e" stroke-width="0.9"/>
<circle cx="95.9" cy="521.7" r="3.4" fill="#464646" stroke="#1e1e1e" stroke-width="0.9"/>
<circle cx="103.3" cy="518.9" r="3.4" fill="#333" stroke="#111" stroke-width="0.9"/>
<circle cx="98" cy="518.5" r="3.4" fill="#333" stroke="#111" stroke-width="0.9"/>
<circle cx="114.9" cy="519.4" r="3.4" fill="#464646" stroke="#1e1e1e" stroke-width="0.9"/>
<circle cx="119.5" cy="507.3" r="3.4" fill="#464646" stroke="#1e1e1e" stroke-width="0.9"/>
<circle cx="123.7" cy="509.2" r="3.4" fill="#464646" stroke="#1e1e1e" stroke-width="0.9"/>
<circle cx="126.9" cy="513.8" r="3.4" fill="#464646" stroke="#1e1e1e" stroke-width="0.9"/>
<circle cx="132.9" cy="511.5" r="3.4" fill="#464646" stroke="#1e1e1e" stroke-width="0.9"/>
<circle cx="140.8" cy="513.8" r="3.4" fill="#464646" stroke="#1e1e1e" stroke-width="0.9"/>
<circle cx="141.4" cy="514.9" r="3.4" fill="#464646" stroke="#1e1e1e" stroke-width="0.9"/>
<circle cx="148.3" cy="515.6" r="3.4" fill="#464646" stroke="#1e1e1e" stroke-width="0.9"/>
<circle cx="155.8" cy="514.3" r="3.4" fill="#464646" stroke="#1e1e1e" stroke-width="0.9"/>
<circle cx="164.1" cy="518.4" r="3.4" fill="#464646" stroke="#1e1e1e" stroke-width="0.9"/>
<circle cx="175.8" cy="519.1" r="3.4" fill="#464646" stroke="#1e1e1e" stroke-width="0.9"/>
<circle cx="191.6" cy="518.4" r="3.4" fill="#464646" stroke="#1e1e1e" stroke-width="0.9"/>
<circle cx="206.7" cy="519.1" r="3.4" fill="#464646" stroke="#1e1e1e" stroke-width="0.9"/>
<circle cx="222.5" cy="521.1" r="3.4" fill="#464646" stroke="#1e1e1e" stroke-width="0.9"/>
<circle cx="238.3" cy="521.8" r="3.4" fill="#464646" stroke="#1e1e1e" stroke-width="0.9"/>
<circle cx="265.4" cy="522.7" r="3.4" fill="#464646" stroke="#1e1e1e" stroke-width="0.9"/>
<circle cx="304.7" cy="523.6" r="3.4" fill="#464646" stroke="#1e1e1e" stroke-width="0.9"/>
<circle cx="343.3" cy="524.1" r="3.4" fill="#464646" stroke="#1e1e1e" stroke-width="0.9"/>
<circle cx="167.85" cy="363.9" r="3.4" fill="#464646" stroke="#1e1e1e" stroke-width="0.9"/>
<circle cx="12" cy="526" r="3.4" fill="#151515" stroke="#000" stroke-width="0.9"/>
<circle cx="13.5" cy="526" r="3.4" fill="#151515" stroke="#000" stroke-width="0.9"/>
<circle cx="15" cy="526" r="3.4" fill="#151515" stroke="#000" stroke-width="0.9"/>
<circle cx="16.5" cy="526" r="3.4" fill="#151515" stroke="#000" stroke-width="0.9"/>
<circle cx="18" cy="526" r="3.4" fill="#151515" stroke="#000" stroke-width="0.9"/>
<circle cx="20.5" cy="524" r="3.4" fill="#151515" stroke="#000" stroke-width="0.9"/>
<rect x="519.40" y="509.40" width="7.6" height="7.6" fill="#fff" stroke="#151515" stroke-width="1.05"/>
<rect x="519.90" y="445.00" width="7.6" height="7.6" fill="#fff" stroke="#151515" stroke-width="1.05"/>
<rect x="528.50" y="417.80" width="7.6" height="7.6" fill="#fff" stroke="#151515" stroke-width="1.05"/>
<rect x="542.00" y="419.60" width="7.6" height="7.6" fill="#fff" stroke="#151515" stroke-width="1.05"/>
<rect x="547.20" y="419.60" width="7.6" height="7.6" fill="#fff" stroke="#151515" stroke-width="1.05"/>
<rect x="538.90" y="435.40" width="7.6" height="7.6" fill="#fff" stroke="#151515" stroke-width="1.05"/>
<rect x="526.50" y="439.90" width="7.6" height="7.6" fill="#fff" stroke="#151515" stroke-width="1.05"/>
<rect x="556.30" y="427.40" width="7.6" height="7.6" fill="#fff" stroke="#151515" stroke-width="1.05"/>
<rect x="579.70" y="447.70" width="7.6" height="7.6" fill="#fff" stroke="#151515" stroke-width="1.05"/>
<rect x="615.00" y="472.70" width="7.6" height="7.6" fill="#fff" stroke="#151515" stroke-width="1.05"/>
<rect x="630.80" y="484.30" width="7.6" height="7.6" fill="#fff" stroke="#151515" stroke-width="1.05"/>
<path d="M522.5,526 L523.2,513.2 L523.2,486.7 L523.7,460" fill="none" stroke="#333" stroke-width="1.1" stroke-dasharray="2,2.2"/>
<path d="M618.8,476.5 L634.6,488.1 L649.8,494.3 L665.6,499.1 L693.1,503.75 L732,510.5 L770.8,515.6" fill="none" stroke="#333" stroke-width="1.1" stroke-dasharray="2,2.2"/>
<rect x="518.50" y="515.60" width="7.6" height="7.6" fill="#3e3e3e" stroke="#1a1a1a" stroke-width="0.9"/>
<rect x="519.40" y="482.90" width="7.6" height="7.6" fill="#3e3e3e" stroke="#1a1a1a" stroke-width="0.9"/>
<rect x="519.90" y="450.30" width="7.6" height="7.6" fill="#3e3e3e" stroke="#1a1a1a" stroke-width="0.9"/>
<rect x="520.30" y="455.60" width="7.6" height="7.6" fill="#3e3e3e" stroke="#1a1a1a" stroke-width="0.9"/>
<rect x="520.80" y="460.90" width="7.6" height="7.6" fill="#3e3e3e" stroke="#1a1a1a" stroke-width="0.9"/>
<rect x="527.40" y="452.10" width="7.6" height="7.6" fill="#3e3e3e" stroke="#1a1a1a" stroke-width="0.9"/>
<rect x="531.10" y="408.10" width="7.6" height="7.6" fill="#3e3e3e" stroke="#1a1a1a" stroke-width="0.9"/>
<rect x="549.90" y="413.90" width="7.6" height="7.6" fill="#3e3e3e" stroke="#1a1a1a" stroke-width="0.9"/>
<rect x="523.30" y="427.60" width="7.6" height="7.6" fill="#3e3e3e" stroke="#1a1a1a" stroke-width="0.9"/>
<rect x="546.00" y="426.30" width="7.6" height="7.6" fill="#3e3e3e" stroke="#1a1a1a" stroke-width="0.9"/>
<rect x="538.90" y="430.20" width="7.6" height="7.6" fill="#3e3e3e" stroke="#1a1a1a" stroke-width="0.9"/>
<rect x="525.90" y="434.10" width="7.6" height="7.6" fill="#3e3e3e" stroke="#1a1a1a" stroke-width="0.9"/>
<rect x="529.10" y="432.10" width="7.6" height="7.6" fill="#3e3e3e" stroke="#1a1a1a" stroke-width="0.9"/>
<rect x="535.00" y="438.60" width="7.6" height="7.6" fill="#3e3e3e" stroke="#1a1a1a" stroke-width="0.9"/>
<rect x="532.20" y="434.20" width="7.6" height="7.6" fill="#3e3e3e" stroke="#1a1a1a" stroke-width="0.9"/>
<rect x="556.30" y="433.90" width="7.6" height="7.6" fill="#3e3e3e" stroke="#1a1a1a" stroke-width="0.9"/>
<rect x="564.10" y="442.30" width="7.6" height="7.6" fill="#3e3e3e" stroke="#1a1a1a" stroke-width="0.9"/>
<rect x="571.90" y="434.50" width="7.6" height="7.6" fill="#3e3e3e" stroke="#1a1a1a" stroke-width="0.9"/>
<rect x="579.70" y="450.70" width="7.6" height="7.6" fill="#3e3e3e" stroke="#1a1a1a" stroke-width="0.9"/>
<rect x="587.50" y="456.60" width="7.6" height="7.6" fill="#3e3e3e" stroke="#1a1a1a" stroke-width="0.9"/>
<rect x="599.20" y="468.50" width="7.6" height="7.6" fill="#3e3e3e" stroke="#1a1a1a" stroke-width="0.9"/>
<rect x="615.00" y="476.10" width="7.6" height="7.6" fill="#3e3e3e" stroke="#1a1a1a" stroke-width="0.9"/>
<rect x="630.80" y="489.20" width="7.6" height="7.6" fill="#3e3e3e" stroke="#1a1a1a" stroke-width="0.9"/>
<rect x="646.00" y="490.50" width="7.6" height="7.6" fill="#3e3e3e" stroke="#1a1a1a" stroke-width="0.9"/>
<rect x="661.80" y="495.30" width="7.6" height="7.6" fill="#3e3e3e" stroke="#1a1a1a" stroke-width="0.9"/>
<rect x="689.30" y="499.95" width="7.6" height="7.6" fill="#3e3e3e" stroke="#1a1a1a" stroke-width="0.9"/>
<rect x="728.20" y="506.70" width="7.6" height="7.6" fill="#3e3e3e" stroke="#1a1a1a" stroke-width="0.9"/>
<rect x="767.00" y="511.80" width="7.6" height="7.6" fill="#3e3e3e" stroke="#1a1a1a" stroke-width="0.9"/>
<rect x="591.30" y="360.10" width="7.6" height="7.6" fill="#3e3e3e" stroke="#1a1a1a" stroke-width="0.9"/>
<rect x="435.70" y="522.20" width="7.6" height="7.6" fill="#2a2a2a" stroke="#0a0a0a" stroke-width="0.9"/>
<rect x="443.20" y="522.20" width="7.6" height="7.6" fill="#2a2a2a" stroke="#0a0a0a" stroke-width="0.9"/>
<rect x="450.70" y="522.20" width="7.6" height="7.6" fill="#2a2a2a" stroke="#0a0a0a" stroke-width="0.9"/>
<rect x="458.20" y="522.20" width="7.6" height="7.6" fill="#2a2a2a" stroke="#0a0a0a" stroke-width="0.9"/>
<rect x="465.70" y="522.20" width="7.6" height="7.6" fill="#2a2a2a" stroke="#0a0a0a" stroke-width="0.9"/>
<rect x="473.20" y="522.20" width="7.6" height="7.6" fill="#2a2a2a" stroke="#0a0a0a" stroke-width="0.9"/>
<rect x="480.70" y="522.20" width="7.6" height="7.6" fill="#2a2a2a" stroke="#0a0a0a" stroke-width="0.9"/>
<rect x="488.20" y="522.20" width="7.6" height="7.6" fill="#2a2a2a" stroke="#0a0a0a" stroke-width="0.9"/>
<rect x="495.70" y="522.20" width="7.6" height="7.6" fill="#2a2a2a" stroke="#0a0a0a" stroke-width="0.9"/>
<rect x="503.20" y="522.20" width="7.6" height="7.6" fill="#2a2a2a" stroke="#0a0a0a" stroke-width="0.9"/>
<rect x="510.70" y="522.20" width="7.6" height="7.6" fill="#2a2a2a" stroke="#0a0a0a" stroke-width="0.9"/>
<rect x="518.20" y="522.20" width="7.6" height="7.6" fill="#2a2a2a" stroke="#0a0a0a" stroke-width="0.9"/>
<rect x="517.00" y="522.20" width="7.6" height="7.6" fill="#1a1a1a" stroke="#000" stroke-width="0.9"/>
</svg></body></html>
